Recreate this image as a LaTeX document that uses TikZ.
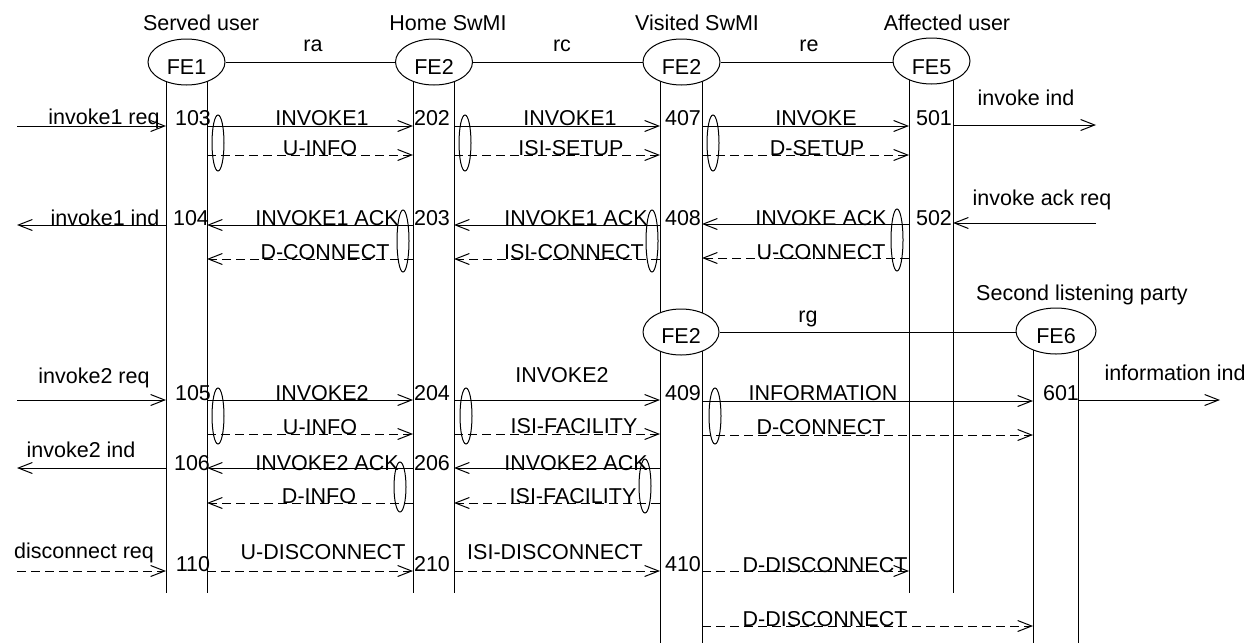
\documentclass[tikz,border=0pt]{standalone}
\usepackage{fontspec}
\setmainfont{Liberation Sans}
\usetikzlibrary{arrows.meta,shapes.geometric}
\begin{document}
\begin{tikzpicture}[x=1pt,y=-1pt,line width=1pt,
  >={Straight Barb[length=14pt,width=11pt]},
  fe/.style={ellipse,draw,fill=white,minimum width=77pt,minimum height=46pt,inner sep=0pt},
  lbl/.style={font=\fontsize{21.5}{24}\selectfont,inner sep=0pt,text height=15.4pt,text depth=0pt},
  grp/.style={ellipse,draw,minimum width=12pt,inner sep=0pt},
  dsh/.style={dash pattern=on 9pt off 5pt}]
\useasboundingbox (0,0) rectangle (1249,643);
% lifeline x positions
\coordinate (L1) at (166,0); \coordinate (L2) at (207,0);
\coordinate (L3) at (413,0); \coordinate (L4) at (454,0);
\coordinate (L5) at (660,0); \coordinate (L6) at (702,0);
\coordinate (L7) at (909,0); \coordinate (L8) at (953,0);
\coordinate (L9) at (1033,0); \coordinate (L10) at (1078,0);
\coordinate (Lft) at (17,0); \coordinate (Rt1) at (1096,0); \coordinate (Rt2) at (1220,0);
% lifelines
\foreach \c in {L1,L2,L3,L4,L7,L8} \draw (\c |- 0,62) -- (\c |- 0,593);
\foreach \c in {L5,L6} \draw (\c |- 0,62) -- (\c |- 0,643);
\foreach \c in {L9,L10} \draw (\c |- 0,330) -- (\c |- 0,643);
% entities
\node[fe] (fe1) at (186.5,62) {};
\node[fe] (fe2a) at (434,62) {};
\node[fe] (fe2b) at (681.5,62) {};
\node[fe] (fe5) at (931.5,61) {};
\node[fe,minimum width=76pt] (fe2c) at (681,332) {};
\node[fe,minimum width=80pt] (fe6) at (1056,331) {};
\node[lbl] at (186.5,66.5) {FE1};
\node[lbl] at (434,66.5) {FE2};
\node[lbl] at (681.5,66.5) {FE2};
\node[lbl] at (931.5,66.5) {FE5};
\node[lbl] at (681,336) {FE2};
\node[lbl] at (1056,336) {FE6};
\draw (fe1) -- (fe2a);
\draw (fe2a) -- (fe2b);
\draw (fe2b.east) -- (fe5.west |- fe2b.east);
\draw (fe2c.east) -- (fe6.west |- fe2c.east);
\node[lbl] at (201,23) {Served user};
\node[lbl] at (448,23) {Home SwMI};
\node[lbl] at (697,23) {Visited SwMI};
\node[lbl] at (947,23) {Affected user};
\node[lbl] at (1082,293) {Second listening party};
\node[lbl] at (313,44) {ra};
\node[lbl] at (562,44) {rc};
\node[lbl] at (809,44) {re};
\node[lbl] at (808,315) {rg};
% row 1
\draw[->] (Lft |- 0,126) -- (L1 |- 0,126);
\draw[->] (L2 |- 0,126) -- (L3 |- 0,126);
\draw[->] (L4 |- 0,126) -- (L5 |- 0,126);
\draw[->] (L6 |- 0,126) -- (L7 |- 0,126);
\draw[->] (L8 |- 0,125) -- (Rt1 |- 0,125);
\draw[->,dsh] (L2 |- 0,155) -- (L3 |- 0,155);
\draw[->,dsh] (L4 |- 0,155) -- (L5 |- 0,155);
\draw[->,dsh] (L6 |- 0,155) -- (L7 |- 0,155);
\node[grp,minimum height=56pt] at (218,143) {};
\node[grp,minimum height=56pt] at (465,143) {};
\node[grp,minimum height=56pt] at (713,143) {};
\node[lbl] at (104,117) {invoke1 req};
\node[lbl] at (193,118) {103};
\node[lbl] at (322,118) {INVOKE1};
\node[lbl] at (432,118) {202};
\node[lbl] at (570,118) {INVOKE1};
\node[lbl] at (683,118) {407};
\node[lbl] at (816,118) {INVOKE};
\node[lbl] at (934,118) {501};
\node[lbl] at (1026,98) {invoke ind};
\node[lbl] at (320,148) {U-INFO};
\node[lbl] at (571,148) {ISI-SETUP};
\node[lbl] at (817,148) {D-SETUP};
% row 2
\draw[->] (L1 |- 0,225) -- (Lft |- 0,225);
\draw[->] (L3 |- 0,225) -- (L2 |- 0,225);
\draw[->] (L5 |- 0,225) -- (L4 |- 0,225);
\draw[->] (L7 |- 0,224) -- (L6 |- 0,224);
\draw[->] (Rt1 |- 0,223) -- (L8 |- 0,223);
\draw[->,dsh] (L3 |- 0,259) -- (L2 |- 0,259);
\draw[->,dsh] (L5 |- 0,259) -- (L4 |- 0,259);
\draw[->,dsh] (L7 |- 0,258) -- (L6 |- 0,258);
\node[grp,minimum height=62pt] at (403,241) {};
\node[grp,minimum height=62pt] at (652,241) {};
\node[grp,minimum height=62pt] at (897,240) {};
\node[lbl] at (105,218) {invoke1 ind};
\node[lbl] at (191,218) {104};
\node[lbl] at (327,218) {INVOKE1 ACK};
\node[lbl] at (432,218) {203};
\node[lbl] at (576,218) {INVOKE1 ACK};
\node[lbl] at (683,218) {408};
\node[lbl] at (821,218) {INVOKE ACK};
\node[lbl] at (934,218) {502};
\node[lbl] at (1042,198) {invoke ack req};
\node[lbl] at (325,252) {D-CONNECT};
\node[lbl] at (574,252) {ISI-CONNECT};
\node[lbl] at (821,252) {U-CONNECT};
% row 3
\draw[->] (Lft |- 0,400) -- (L1 |- 0,400);
\draw[->] (L2 |- 0,400) -- (L3 |- 0,400);
\draw[->] (L4 |- 0,400) -- (L5 |- 0,400);
\draw[->] (L6 |- 0,401) -- (L9 |- 0,401);
\draw[->] (L10 |- 0,400) -- (Rt2 |- 0,400);
\draw[->,dsh] (L2 |- 0,434) -- (L3 |- 0,434);
\draw[->,dsh] (L4 |- 0,434) -- (L5 |- 0,434);
\draw[->,dsh] (L6 |- 0,435) -- (L9 |- 0,435);
\node[grp,minimum height=56pt] at (218,416) {};
\node[grp,minimum height=56pt] at (466,416) {};
\node[grp,minimum height=56pt] at (715,416) {};
\node[lbl] at (94,375.5) {invoke2 req};
\node[lbl] at (193,393) {105};
\node[lbl] at (322,393) {INVOKE2};
\node[lbl] at (432,393) {204};
\node[lbl] at (562,375) {INVOKE2};
\node[lbl] at (683,393) {409};
\node[lbl] at (823,393) {INFORMATION};
\node[lbl] at (1061,393) {601};
\node[lbl] at (1175,373) {information ind};
\node[lbl] at (320,427) {U-INFO};
\node[lbl] at (574,426) {ISI-FACILITY};
\node[lbl] at (821,427) {D-CONNECT};
% row 4
\draw[->] (L1 |- 0,468) -- (Lft |- 0,468);
\draw[->] (L3 |- 0,468) -- (L2 |- 0,468);
\draw[->] (L5 |- 0,468) -- (L4 |- 0,468);
\draw[->,dsh] (L3 |- 0,503) -- (L2 |- 0,503);
\draw[->,dsh] (L5 |- 0,503) -- (L4 |- 0,503);
\node[grp,minimum height=50pt] at (400,487) {};
\node[grp,minimum height=54pt] at (645,486) {};
\node[lbl] at (81,450) {invoke2 ind};
\node[lbl] at (192,463) {106};
\node[lbl] at (327,463) {INVOKE2 ACK};
\node[lbl] at (432,463) {206};
\node[lbl] at (576,463) {INVOKE2 ACK};
\node[lbl] at (319,496) {D-INFO};
\node[lbl] at (573,496) {ISI-FACILITY};
% row 5
\draw[->,dsh] (Lft |- 0,571) -- (L1 |- 0,571);
\draw[->,dsh] (L2 |- 0,571) -- (L3 |- 0,571);
\draw[->,dsh] (L4 |- 0,571) -- (L5 |- 0,571);
\draw[->,dsh] (L6 |- 0,571) -- (L7 |- 0,571);
\draw[->,dsh] (L6 |- 0,626) -- (L9 |- 0,626);
\node[lbl] at (84,551) {disconnect req};
\node[lbl] at (193,564) {110};
\node[lbl] at (323,552) {U-DISCONNECT};
\node[lbl] at (432,564) {210};
\node[lbl] at (555,552) {ISI-DISCONNECT};
\node[lbl] at (683,564) {410};
\node[lbl] at (825,565) {D-DISCONNECT};
\node[lbl] at (825,619) {D-DISCONNECT};
\end{tikzpicture}
\end{document}
